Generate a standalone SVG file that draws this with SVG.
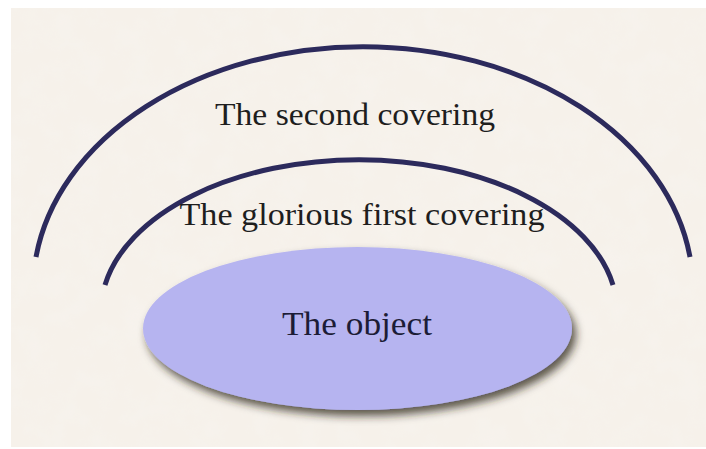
<svg xmlns="http://www.w3.org/2000/svg" width="706" height="449" viewBox="0 0 706 449">
  <defs>
    <filter id="paper" x="0" y="0" width="100%" height="100%">
      <feTurbulence type="fractalNoise" baseFrequency="0.04" numOctaves="4" seed="3" result="n"/>
      <feColorMatrix in="n" type="matrix" values="0 0 0 0 0.93  0 0 0 0 0.90  0 0 0 0 0.86  0 0 0 -1.2 0.75" result="c"/>
      <feComposite in="c" in2="SourceGraphic" operator="in"/>
    </filter>
    <filter id="shadow" x="-10%" y="-20%" width="125%" height="150%">
      <feGaussianBlur in="SourceAlpha" stdDeviation="4" result="b"/>
      <feOffset in="b" dx="4" dy="6" result="o"/>
      <feFlood flood-color="#2a2418" flood-opacity="0.75"/>
      <feComposite in2="o" operator="in" result="s"/>
      <feMerge><feMergeNode in="s"/><feMergeNode in="SourceGraphic"/></feMerge>
    </filter>
  </defs>
  <style>
    .arc { fill: none; stroke: #2c2a5c; stroke-width: 5; stroke-linecap: butt; }
    .lbl { font-family: "Liberation Serif", "Times New Roman", serif; fill: #1e1e1e; text-anchor: middle; }
  </style>
  <rect x="0" y="0" width="706" height="449" fill="#ffffff"/>
  <rect x="11" y="8" width="695" height="439" fill="#f6f1ea"/>
  <rect x="11" y="8" width="695" height="439" fill="#f6f1ea" filter="url(#paper)"/>

  <g id="connectors">
    <g id="outer-covering">
      <path class="arc" d="M 36 257 A 330 243 0 0 1 690 257"/>
      <text class="lbl" x="355" y="125" font-size="32" textLength="280" lengthAdjust="spacingAndGlyphs">The second covering</text>
    </g>
    <g id="first-covering">
      <path class="arc" d="M 105 285 A 258 152 0 0 1 613 285"/>
      <text class="lbl" x="362" y="225" font-size="32" textLength="365" lengthAdjust="spacingAndGlyphs">The glorious first covering</text>
    </g>
  </g>

  <g id="object">
    <ellipse cx="357.5" cy="328.5" rx="214.5" ry="81.5" fill="#b6b4f0" filter="url(#shadow)"/>
    <text class="lbl" x="357" y="335" font-size="33" fill="#1c1c36" style="fill:#1c1c36" textLength="150" lengthAdjust="spacingAndGlyphs">The object</text>
  </g>
</svg>
